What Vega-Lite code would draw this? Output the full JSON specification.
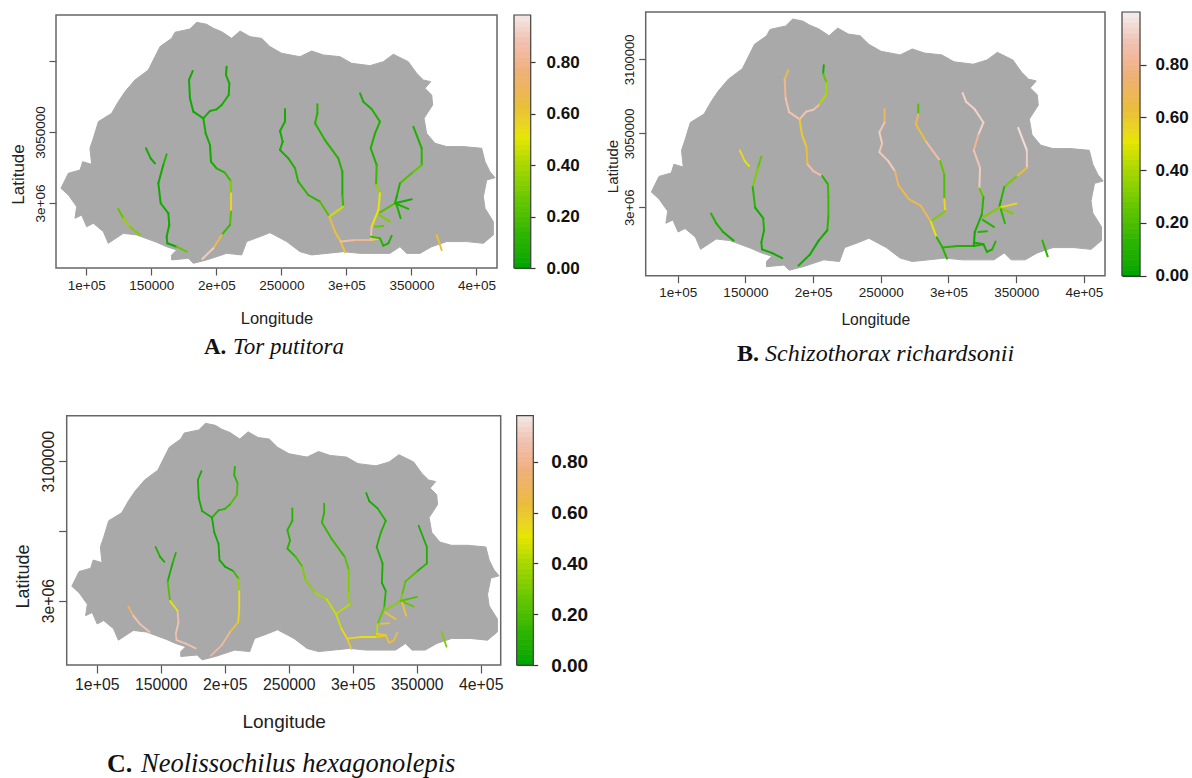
{"$schema":"https://vega.github.io/schema/vega-lite/v6.json","width":1192,"height":778,"autosize":{"type":"none"},"padding":0,"background":"white","config":{"view":{"stroke":null},"axis":{"grid":false,"domain":false,"labelFont":"Liberation Sans","titleFont":"Liberation Sans","labelColor":"#222","titleColor":"#222","titleFontWeight":"normal","tickColor":"#555","tickWidth":1.2,"labelOverlap":false,"labelFlush":false}},
"datasets":{
"outline":[{"o":1,"lon":80500,"lat":3010300},{"o":2,"lon":86200,"lat":3020900},{"o":3,"lon":95200,"lat":3023200},{"o":4,"lon":97200,"lat":3029100},{"o":5,"lon":104100,"lat":3027200},{"o":6,"lon":102800,"lat":3038500},{"o":7,"lon":105400,"lat":3045500},{"o":8,"lon":109300,"lat":3057300},{"o":9,"lon":119500,"lat":3063100},{"o":10,"lon":124600,"lat":3071300},{"o":11,"lon":129800,"lat":3078400},{"o":12,"lon":137400,"lat":3086600},{"o":13,"lon":147700,"lat":3093600},{"o":14,"lon":152800,"lat":3103000},{"o":15,"lon":156700,"lat":3110100},{"o":16,"lon":165600,"lat":3115900},{"o":17,"lon":168200,"lat":3120200},{"o":18,"lon":179700,"lat":3122500},{"o":19,"lon":184900,"lat":3127200},{"o":20,"lon":192600,"lat":3125800},{"o":21,"lon":197700,"lat":3123000},{"o":22,"lon":204100,"lat":3120600},{"o":23,"lon":211800,"lat":3115900},{"o":24,"lon":218200,"lat":3121100},{"o":25,"lon":225900,"lat":3117100},{"o":26,"lon":234800,"lat":3115900},{"o":27,"lon":241200,"lat":3110100},{"o":28,"lon":250200,"lat":3105400},{"o":29,"lon":264300,"lat":3103000},{"o":30,"lon":273300,"lat":3107000},{"o":31,"lon":282300,"lat":3104200},{"o":32,"lon":295100,"lat":3103000},{"o":33,"lon":304100,"lat":3098300},{"o":34,"lon":318200,"lat":3096700},{"o":35,"lon":328400,"lat":3099500},{"o":36,"lon":336100,"lat":3104700},{"o":37,"lon":347600,"lat":3099500},{"o":38,"lon":354000,"lat":3091300},{"o":39,"lon":359200,"lat":3086600},{"o":40,"lon":364800,"lat":3085400},{"o":41,"lon":360400,"lat":3080700},{"o":42,"lon":365600,"lat":3076000},{"o":43,"lon":366300,"lat":3069000},{"o":44,"lon":359700,"lat":3059600},{"o":45,"lon":361700,"lat":3049000},{"o":46,"lon":368100,"lat":3042000},{"o":47,"lon":377100,"lat":3039700},{"o":48,"lon":389900,"lat":3039700},{"o":49,"lon":404000,"lat":3038500},{"o":50,"lon":406600,"lat":3029100},{"o":51,"lon":410400,"lat":3022000},{"o":52,"lon":414300,"lat":3017800},{"o":53,"lon":407900,"lat":3016200},{"o":54,"lon":405300,"lat":3004400},{"o":55,"lon":406600,"lat":2996200},{"o":56,"lon":413000,"lat":2986800},{"o":57,"lon":413000,"lat":2977500},{"o":58,"lon":405300,"lat":2971600},{"o":59,"lon":392500,"lat":2972800},{"o":60,"lon":377100,"lat":2972800},{"o":61,"lon":365600,"lat":2969200},{"o":62,"lon":356600,"lat":2964500},{"o":63,"lon":346300,"lat":2964500},{"o":64,"lon":341200,"lat":2969200},{"o":65,"lon":333500,"lat":2964500},{"o":66,"lon":310500,"lat":2964500},{"o":67,"lon":297600,"lat":2965700},{"o":68,"lon":273300,"lat":2963400},{"o":69,"lon":264300,"lat":2965700},{"o":70,"lon":254100,"lat":2972800},{"o":71,"lon":241200,"lat":2979100},{"o":72,"lon":233600,"lat":2976300},{"o":73,"lon":223300,"lat":2972800},{"o":74,"lon":219500,"lat":2963400},{"o":75,"lon":207900,"lat":2964500},{"o":76,"lon":192600,"lat":2959900},{"o":77,"lon":182300,"lat":2957500},{"o":78,"lon":178500,"lat":2961000},{"o":79,"lon":165600,"lat":2959900},{"o":80,"lon":165600,"lat":2963400},{"o":81,"lon":169500,"lat":2966900},{"o":82,"lon":161800,"lat":2969200},{"o":83,"lon":154100,"lat":2972300},{"o":84,"lon":138700,"lat":2977500},{"o":85,"lon":128500,"lat":2978600},{"o":86,"lon":116900,"lat":2971600},{"o":87,"lon":113100,"lat":2979800},{"o":88,"lon":105400,"lat":2985700},{"o":89,"lon":100300,"lat":2983300},{"o":90,"lon":96400,"lat":2991500},{"o":91,"lon":91300,"lat":2989200},{"o":92,"lon":92600,"lat":2997400},{"o":93,"lon":86200,"lat":3005600},{"o":94,"lon":80500,"lat":3010300}],
"rivers":[
{"r":1,"lon":124600,"lat":2995800,"a":0.25,"b":0.1,"c":0.72},{"r":1,"lon":128500,"lat":2989200,"a":0.35,"b":0.08,"c":0.88},{"r":1,"lon":133600,"lat":2983300,"a":0.3,"b":0.05,"c":0.88},{"r":1,"lon":141300,"lat":2977500,"a":0.3,"b":0.1,"c":0.88},
{"r":2,"lon":145900,"lat":3038500,"a":0.05,"b":0.55,"c":0.08},{"r":2,"lon":149500,"lat":3031400,"a":0.03,"b":0.5,"c":0.03},{"r":2,"lon":152800,"lat":3027900,"a":0.03,"b":0.5,"c":0.03},
{"r":3,"lon":161800,"lat":3034300,"a":0.1,"b":0.25,"c":0.1},{"r":3,"lon":159200,"lat":3026700,"a":0.03,"b":0.3,"c":0.05},{"r":3,"lon":155400,"lat":3013800,"a":0.03,"b":0.12,"c":0.2},{"r":3,"lon":157200,"lat":2999800,"a":0.03,"b":0.04,"c":0.5},{"r":3,"lon":163100,"lat":2992700,"a":0.03,"b":0.08,"c":0.85},{"r":3,"lon":163800,"lat":2984500,"a":0.03,"b":0.05,"c":0.88},{"r":3,"lon":161800,"lat":2976300,"a":0.03,"b":0.05,"c":0.85},{"r":3,"lon":162300,"lat":2971600,"a":0.02,"b":0.03,"c":0.88},{"r":3,"lon":169500,"lat":2969200,"a":0.25,"b":0.03,"c":0.88},{"r":3,"lon":177200,"lat":2965700,"a":0.3,"b":0.03,"c":0.88},
{"r":4,"lon":181800,"lat":3092900,"a":0.03,"b":0.65,"c":0.05},{"r":4,"lon":179000,"lat":3086600,"a":0.03,"b":0.8,"c":0.05},{"r":4,"lon":179700,"lat":3073700,"a":0.03,"b":0.88,"c":0.05},{"r":4,"lon":182300,"lat":3064300,"a":0.03,"b":0.88,"c":0.05},{"r":4,"lon":190000,"lat":3059600,"a":0.03,"b":0.88,"c":0.05},
{"r":5,"lon":207900,"lat":3096000,"a":0.03,"b":0.05,"c":0.1},{"r":5,"lon":207400,"lat":3090100,"a":0.05,"b":0.25,"c":0.12},{"r":5,"lon":210000,"lat":3084200,"a":0.05,"b":0.38,"c":0.18},{"r":5,"lon":209500,"lat":3076000,"a":0.05,"b":0.4,"c":0.2},{"r":5,"lon":204100,"lat":3069000,"a":0.05,"b":0.85,"c":0.15},{"r":5,"lon":200200,"lat":3065900,"a":0.05,"b":0.88,"c":0.12},{"r":5,"lon":195100,"lat":3064800,"a":0.05,"b":0.88,"c":0.1},{"r":5,"lon":190000,"lat":3059600,"a":0.05,"b":0.88,"c":0.1},
{"r":6,"lon":190000,"lat":3059600,"a":0.05,"b":0.58,"c":0.03},{"r":6,"lon":191800,"lat":3049000,"a":0.05,"b":0.58,"c":0.03},{"r":6,"lon":195100,"lat":3040800,"a":0.03,"b":0.62,"c":0.03},{"r":6,"lon":195900,"lat":3029100,"a":0.05,"b":0.85,"c":0.03},{"r":6,"lon":200200,"lat":3024400,"a":0.1,"b":0.85,"c":0.03},{"r":6,"lon":206600,"lat":3021300,"a":0.15,"b":0.1,"c":0.15},{"r":6,"lon":211000,"lat":3015500,"a":0.3,"b":0.15,"c":0.35},{"r":6,"lon":211300,"lat":3006800,"a":0.55,"b":0.15,"c":0.52},{"r":6,"lon":211300,"lat":2993900,"a":0.2,"b":0.12,"c":0.55},{"r":6,"lon":210500,"lat":2984500,"a":0.15,"b":0.05,"c":0.6},{"r":6,"lon":204100,"lat":2977500,"a":0.65,"b":0.03,"c":0.82},{"r":6,"lon":197700,"lat":2968100,"a":0.9,"b":0.03,"c":0.82},{"r":6,"lon":189200,"lat":2960600,"a":0.6,"b":0.03,"c":0.6},
{"r":7,"lon":252800,"lat":3066200,"a":0.05,"b":0.68,"c":0.1},{"r":7,"lon":252800,"lat":3057300,"a":0.05,"b":0.88,"c":0.1},{"r":7,"lon":248950,"lat":3050700,"a":0.05,"b":0.9,"c":0.1},{"r":7,"lon":251000,"lat":3043200,"a":0.05,"b":0.88,"c":0.1},{"r":7,"lon":248950,"lat":3037300,"a":0.05,"b":0.9,"c":0.1},{"r":7,"lon":255400,"lat":3031400,"a":0.08,"b":0.9,"c":0.18},{"r":7,"lon":260500,"lat":3024400,"a":0.12,"b":0.72,"c":0.3},{"r":7,"lon":263000,"lat":3015000,"a":0.12,"b":0.65,"c":0.33},{"r":7,"lon":270700,"lat":3005600,"a":0.12,"b":0.65,"c":0.38},{"r":7,"lon":279700,"lat":3000900,"a":0.2,"b":0.68,"c":0.45},{"r":7,"lon":286900,"lat":2990400,"a":0.4,"b":0.5,"c":0.45},
{"r":8,"lon":277700,"lat":3069500,"a":0.1,"b":0.2,"c":0.12},{"r":8,"lon":277700,"lat":3063100,"a":0.1,"b":0.68,"c":0.12},{"r":8,"lon":275900,"lat":3056100,"a":0.1,"b":0.62,"c":0.13},{"r":8,"lon":283500,"lat":3044300,"a":0.1,"b":0.85,"c":0.15},{"r":8,"lon":293800,"lat":3031400,"a":0.1,"b":0.25,"c":0.22},{"r":8,"lon":296900,"lat":3022000,"a":0.08,"b":0.2,"c":0.3},{"r":8,"lon":296900,"lat":3005600,"a":0.15,"b":0.55,"c":0.35},{"r":8,"lon":297600,"lat":2997400,"a":0.45,"b":0.3,"c":0.42},{"r":8,"lon":286900,"lat":2990400,"a":0.5,"b":0.3,"c":0.45},
{"r":9,"lon":286900,"lat":2990400,"a":0.65,"b":0.5,"c":0.45},{"r":9,"lon":291200,"lat":2979800,"a":0.6,"b":0.1,"c":0.55},{"r":9,"lon":295600,"lat":2972800,"a":0.6,"b":0.1,"c":0.58},{"r":9,"lon":298900,"lat":2965300,"a":0.6,"b":0.1,"c":0.6},
{"r":10,"lon":295600,"lat":2972800,"a":0.85,"b":0.1,"c":0.55},{"r":10,"lon":306600,"lat":2973900,"a":0.8,"b":0.08,"c":0.52},{"r":10,"lon":318700,"lat":2973900,"a":0.55,"b":0.06,"c":0.58},{"r":10,"lon":325800,"lat":2975100,"a":0.5,"b":0.06,"c":0.6},
{"r":11,"lon":310500,"lat":3077200,"a":0.06,"b":0.92,"c":0.03},{"r":11,"lon":313000,"lat":3071300,"a":0.06,"b":0.92,"c":0.05},{"r":11,"lon":319400,"lat":3066200,"a":0.08,"b":0.92,"c":0.08},{"r":11,"lon":325800,"lat":3057300,"a":0.08,"b":0.92,"c":0.08},{"r":11,"lon":322000,"lat":3049000,"a":0.08,"b":0.8,"c":0.08},{"r":11,"lon":318700,"lat":3038500,"a":0.08,"b":0.88,"c":0.06},{"r":11,"lon":323300,"lat":3026700,"a":0.15,"b":0.9,"c":0.05},{"r":11,"lon":322800,"lat":3012700,"a":0.35,"b":0.25,"c":0.03},{"r":11,"lon":325800,"lat":3006800,"a":0.5,"b":0.12,"c":0.1},{"r":11,"lon":324600,"lat":2995100,"a":0.5,"b":0.06,"c":0.25},{"r":11,"lon":319400,"lat":2983300,"a":0.85,"b":0.03,"c":0.42},{"r":11,"lon":318700,"lat":2973900,"a":0.85,"b":0.03,"c":0.58},
{"r":12,"lon":351500,"lat":3053700,"a":0.08,"b":0.95,"c":0.06},{"r":12,"lon":357900,"lat":3038500,"a":0.12,"b":0.9,"c":0.08},{"r":12,"lon":357900,"lat":3026700,"a":0.25,"b":0.62,"c":0.1},{"r":12,"lon":350200,"lat":3020900,"a":0.2,"b":0.28,"c":0.2},{"r":12,"lon":341200,"lat":3013800,"a":0.08,"b":0.12,"c":0.22},{"r":12,"lon":338650,"lat":3004400,"a":0.04,"b":0.05,"c":0.3},{"r":12,"lon":337400,"lat":2999800,"a":0.2,"b":0.3,"c":0.32},{"r":12,"lon":325800,"lat":2993400,"a":0.5,"b":0.5,"c":0.35},
{"r":13,"lon":337400,"lat":2999800,"a":0.04,"b":0.55,"c":0.2},{"r":13,"lon":350200,"lat":3002600,"a":0.04,"b":0.55,"c":0.2},
{"r":14,"lon":337400,"lat":2999800,"a":0.08,"b":0.3,"c":0.25},{"r":14,"lon":347600,"lat":2995800,"a":0.08,"b":0.3,"c":0.25},
{"r":15,"lon":338650,"lat":2998600,"a":0.08,"b":0.12,"c":0.6},{"r":15,"lon":341700,"lat":2989200,"a":0.08,"b":0.12,"c":0.6},
{"r":16,"lon":322000,"lat":2983300,"a":0.25,"b":0.1,"c":0.6},{"r":16,"lon":328400,"lat":2983800,"a":0.25,"b":0.1,"c":0.6},
{"r":17,"lon":325300,"lat":2991500,"a":0.3,"b":0.1,"c":0.6},{"r":17,"lon":333500,"lat":2986800,"a":0.3,"b":0.1,"c":0.6},
{"r":18,"lon":318700,"lat":2976300,"a":0.15,"b":0.05,"c":0.58},{"r":18,"lon":325800,"lat":2975100,"a":0.1,"b":0.05,"c":0.6},{"r":18,"lon":328400,"lat":2969900,"a":0.08,"b":0.05,"c":0.65},{"r":18,"lon":332250,"lat":2971600,"a":0.08,"b":0.1,"c":0.65},{"r":18,"lon":334800,"lat":2976800,"a":0.08,"b":0.1,"c":0.65},
{"r":19,"lon":369400,"lat":2977500,"a":0.62,"b":0.12,"c":0.3},{"r":19,"lon":373250,"lat":2966900,"a":0.62,"b":0.12,"c":0.3}],
"bar":[{"v0":0,"v1":0.02},{"v0":0.02,"v1":0.04},{"v0":0.04,"v1":0.06},{"v0":0.06,"v1":0.08},{"v0":0.08,"v1":0.1},{"v0":0.1,"v1":0.12},{"v0":0.12,"v1":0.14},{"v0":0.14,"v1":0.16},{"v0":0.16,"v1":0.18},{"v0":0.18,"v1":0.2},{"v0":0.2,"v1":0.22},{"v0":0.22,"v1":0.24},{"v0":0.24,"v1":0.26},{"v0":0.26,"v1":0.28},{"v0":0.28,"v1":0.3},{"v0":0.3,"v1":0.32},{"v0":0.32,"v1":0.34},{"v0":0.34,"v1":0.36},{"v0":0.36,"v1":0.38},{"v0":0.38,"v1":0.4},{"v0":0.4,"v1":0.42},{"v0":0.42,"v1":0.44},{"v0":0.44,"v1":0.46},{"v0":0.46,"v1":0.48},{"v0":0.48,"v1":0.5},{"v0":0.5,"v1":0.52},{"v0":0.52,"v1":0.54},{"v0":0.54,"v1":0.56},{"v0":0.56,"v1":0.58},{"v0":0.58,"v1":0.6},{"v0":0.6,"v1":0.62},{"v0":0.62,"v1":0.64},{"v0":0.64,"v1":0.66},{"v0":0.66,"v1":0.68},{"v0":0.68,"v1":0.7},{"v0":0.7,"v1":0.72},{"v0":0.72,"v1":0.74},{"v0":0.74,"v1":0.76},{"v0":0.76,"v1":0.78},{"v0":0.78,"v1":0.8},{"v0":0.8,"v1":0.82},{"v0":0.82,"v1":0.84},{"v0":0.84,"v1":0.86},{"v0":0.86,"v1":0.88},{"v0":0.88,"v1":0.9},{"v0":0.9,"v1":0.92},{"v0":0.92,"v1":0.94},{"v0":0.94,"v1":0.96},{"v0":0.96,"v1":0.98},{"v0":0.98,"v1":1}]
},
"resolve":{"scale":{"x":"independent","y":"independent"}},
"layer":[
{"encoding":{"x":{"field":"lon","type":"quantitative","title":"Longitude","scale":{"domain":[76700,415800],"range":[56,497],"nice":false,"zero":false},"axis":{"orient":"bottom","offset":-510,"values":[100000,150000,200000,250000,300000,350000,400000],"labelExpr":"datum.value%100000==0?(datum.value/100000)+'e+05':''+datum.value","labelFontSize":13.5,"titleFontSize":16.5,"tickSize":7,"labelPadding":3,"titleBaseline":"middle","titleY":50}},"y":{"field":"lat","type":"quantitative","title":"Latitude","scale":{"domain":[2954200,3132350],"range":[268,15],"nice":false,"zero":false},"axis":{"orient":"left","offset":-56,"values":[3000000,3050000,3100000],"labelExpr":"datum.value==3000000?'3e+06':datum.value==3050000?'3050000':''","labelAngle":270,"labelFontSize":13.5,"titleFontSize":17,"tickSize":7,"labelPadding":2,"titleBaseline":"middle","titleX":-38,"titleY":174}}},
"layer":[
{"data":{"name":"outline"},"mark":{"type":"line","fill":"#a9a9a9","stroke":"#a9a9a9","strokeWidth":1},"encoding":{"order":{"field":"o"}}},
{"data":{"name":"rivers"},"transform":[{"window":[{"op":"lead","field":"lon","as":"lon2"},{"op":"lead","field":"lat","as":"lat2"}],"groupby":["r"]},{"filter":"isValid(datum.lon2)"}],"mark":{"type":"rule","strokeWidth":2,"strokeCap":"round"},"encoding":{"x2":{"field":"lon2"},"y2":{"field":"lat2"},"color":{"field":"a","type":"quantitative","legend":null,"scale":{"domain":[0,0.125,0.25,0.375,0.5,0.625,0.75,0.875,1],"range":["#00A600","#2DB600","#63C600","#A0D600","#E6E600","#E9BD3A","#ECB176","#EFC2B3","#F2F2F2"]}}}},
{"data":{"values":[{"lon":76700,"lon2":415800,"lat":2954200,"lat2":3132350}]},"mark":{"type":"rect","fill":null,"stroke":"#666","strokeWidth":1.5},"encoding":{"x2":{"field":"lon2"},"y2":{"field":"lat2"}}},
{"data":{"values":[{"lon":190500,"lat":2898600,"t":"A."}]},"mark":{"type":"text","align":"left","baseline":"middle","font":"Liberation Serif","fontWeight":"bold","fontSize":23,"color":"#111"},"encoding":{"text":{"field":"t"}}},
{"data":{"values":[{"lon":212800,"lat":2898600,"t":"Tor putitora"}]},"mark":{"type":"text","align":"left","baseline":"middle","font":"Liberation Serif","fontStyle":"italic","fontSize":23,"color":"#111"},"encoding":{"text":{"field":"t"}}}
]},
{"data":{"name":"bar"},"encoding":{"x":{"datum":0,"type":"quantitative","scale":{"domain":[0,1],"range":[514,530.7]},"axis":null},"x2":{"datum":1},"y":{"field":"v0","type":"quantitative","title":null,"scale":{"domain":[0,0.984],"range":[268,15],"nice":false,"clamp":true},"axis":{"orient":"right","offset":-678,"values":[0,0.2,0.4,0.6,0.8],"format":".2f","tickSize":21,"tickColor":"#333","labelPadding":11,"labelFontSize":17,"labelFontWeight":"bold","labelColor":"#111"}},"y2":{"field":"v1"}},
"layer":[{"mark":{"type":"rect","strokeWidth":0.8},"encoding":{"color":{"field":"v0","type":"quantitative","legend":null},"stroke":{"field":"v0","type":"quantitative","legend":null,"scale":{"domain":[0,0.125,0.25,0.375,0.5,0.625,0.75,0.875,1],"range":["#00A600","#2DB600","#63C600","#A0D600","#E6E600","#E9BD3A","#ECB176","#EFC2B3","#F2F2F2"]}}}},
{"data":{"values":[{"v0":0,"v1":0.984}]},"mark":{"type":"rect","fill":null,"stroke":"#444","strokeWidth":1.2}}]},
{"encoding":{"x":{"field":"lon","type":"quantitative","title":"Longitude","scale":{"domain":[76360,415600],"range":[645.7,1105],"nice":false,"zero":false},"axis":{"orient":"bottom","offset":-502.3,"values":[100000,150000,200000,250000,300000,350000,400000],"labelExpr":"datum.value%100000==0?(datum.value/100000)+'e+05':''+datum.value","labelFontSize":13.5,"titleFontSize":15.7,"tickSize":7,"labelPadding":3,"titleBaseline":"middle","titleY":44}},"y":{"field":"lat","type":"quantitative","title":"Latitude","scale":{"domain":[2953800,3131970],"range":[275.7,12],"nice":false,"zero":false},"axis":{"orient":"left","offset":-645.7,"values":[3000000,3050000,3100000],"labelExpr":"datum.value==3000000?'3e+06':''+datum.value","labelAngle":270,"labelFontSize":13,"titleFontSize":15,"tickSize":7,"labelPadding":2,"titleBaseline":"middle","titleX":-33.7,"titleY":166}}},
"layer":[
{"data":{"name":"outline"},"mark":{"type":"line","fill":"#a9a9a9","stroke":"#a9a9a9","strokeWidth":1},"encoding":{"order":{"field":"o"}}},
{"data":{"name":"rivers"},"transform":[{"window":[{"op":"lead","field":"lon","as":"lon2"},{"op":"lead","field":"lat","as":"lat2"}],"groupby":["r"]},{"filter":"isValid(datum.lon2)"}],"mark":{"type":"rule","strokeWidth":2,"strokeCap":"round"},"encoding":{"x2":{"field":"lon2"},"y2":{"field":"lat2"},"color":{"field":"b","type":"quantitative","legend":null}}},
{"data":{"values":[{"lon":76360,"lon2":415600,"lat":2953800,"lat2":3131970}]},"mark":{"type":"rect","fill":null,"stroke":"#666","strokeWidth":1.5},"encoding":{"x2":{"field":"lon2"},"y2":{"field":"lat2"}}},
{"data":{"values":[{"lon":143800,"lat":2900900,"t":"B."}]},"mark":{"type":"text","align":"left","baseline":"middle","font":"Liberation Serif","fontWeight":"bold","fontSize":24,"color":"#111"},"encoding":{"text":{"field":"t"}}},
{"data":{"values":[{"lon":164500,"lat":2900900,"t":"Schizothorax richardsonii"}]},"mark":{"type":"text","align":"left","baseline":"middle","font":"Liberation Serif","fontStyle":"italic","fontSize":24,"color":"#111"},"encoding":{"text":{"field":"t"}}}
]},
{"data":{"name":"bar"},"encoding":{"x":{"datum":0,"type":"quantitative","scale":{"domain":[0,1],"range":[1122,1140]},"axis":null},"x2":{"datum":1},"y":{"field":"v0","type":"quantitative","title":null,"scale":{"domain":[0,1],"range":[275.7,12],"nice":false,"clamp":true},"axis":{"orient":"right","offset":-70,"values":[0,0.2,0.4,0.6,0.8],"format":".2f","tickSize":24,"tickColor":"#333","labelPadding":9,"labelFontSize":17,"labelFontWeight":"bold","labelColor":"#111"}},"y2":{"field":"v1"}},
"layer":[{"mark":{"type":"rect","strokeWidth":0.8},"encoding":{"color":{"field":"v0","type":"quantitative","legend":null},"stroke":{"field":"v0","type":"quantitative","legend":null}}},
{"data":{"values":[{"v0":0,"v1":1}]},"mark":{"type":"rect","fill":null,"stroke":"#444","strokeWidth":1.2}}]},
{"encoding":{"x":{"field":"lon","type":"quantitative","title":"Longitude","scale":{"domain":[76500,415600],"range":[66.7,500.7],"nice":false,"zero":false},"axis":{"orient":"bottom","offset":-113,"values":[100000,150000,200000,250000,300000,350000,400000],"labelExpr":"datum.value%100000==0?(datum.value/100000)+'e+05':''+datum.value","labelFontSize":15.8,"titleFontSize":19,"tickSize":8,"labelPadding":4,"titleBaseline":"middle","titleY":56}},"y":{"field":"lat","type":"quantitative","title":"Latitude","scale":{"domain":[2953800,3132700],"range":[665,415.7],"nice":false,"zero":false},"axis":{"orient":"left","offset":-66.7,"values":[3000000,3050000,3100000],"labelExpr":"datum.value==3000000?'3e+06':datum.value==3100000?'3100000':''","labelAngle":270,"labelFontSize":15.8,"titleFontSize":18,"tickSize":8,"labelPadding":2,"titleBaseline":"middle","titleX":-42.7,"titleY":576}}},
"layer":[
{"data":{"name":"outline"},"mark":{"type":"line","fill":"#a9a9a9","stroke":"#a9a9a9","strokeWidth":1},"encoding":{"order":{"field":"o"}}},
{"data":{"name":"rivers"},"transform":[{"window":[{"op":"lead","field":"lon","as":"lon2"},{"op":"lead","field":"lat","as":"lat2"}],"groupby":["r"]},{"filter":"isValid(datum.lon2)"}],"mark":{"type":"rule","strokeWidth":1.8,"strokeCap":"round"},"encoding":{"x2":{"field":"lon2"},"y2":{"field":"lat2"},"color":{"field":"c","type":"quantitative","legend":null}}},
{"data":{"values":[{"lon":76500,"lon2":415600,"lat":2953800,"lat2":3132700}]},"mark":{"type":"rect","fill":null,"stroke":"#666","strokeWidth":1.5},"encoding":{"x2":{"field":"lon2"},"y2":{"field":"lat2"}}},
{"data":{"values":[{"lon":108000,"lat":2883100,"t":"C."}]},"mark":{"type":"text","align":"left","baseline":"middle","font":"Liberation Serif","fontWeight":"bold","fontSize":26,"color":"#111"},"encoding":{"text":{"field":"t"}}},
{"data":{"values":[{"lon":134600,"lat":2883100,"t":"Neolissochilus hexagonolepis"}]},"mark":{"type":"text","align":"left","baseline":"middle","font":"Liberation Serif","fontStyle":"italic","fontSize":26.5,"color":"#111"},"encoding":{"text":{"field":"t"}}}
]},
{"data":{"name":"bar"},"encoding":{"x":{"datum":0,"type":"quantitative","scale":{"domain":[0,1],"range":[516.7,533.3]},"axis":null},"x2":{"datum":1},"y":{"field":"v0","type":"quantitative","title":null,"scale":{"domain":[0,0.982],"range":[665,415.7],"nice":false,"clamp":true},"axis":{"orient":"right","offset":-675.3,"values":[0,0.2,0.4,0.6,0.8],"format":".2f","tickSize":21,"tickColor":"#333","labelPadding":13,"labelFontSize":19,"labelFontWeight":"bold","labelColor":"#111"}},"y2":{"field":"v1"}},
"layer":[{"mark":{"type":"rect","strokeWidth":0.8},"encoding":{"color":{"field":"v0","type":"quantitative","legend":null},"stroke":{"field":"v0","type":"quantitative","legend":null}}},
{"data":{"values":[{"v0":0,"v1":0.982}]},"mark":{"type":"rect","fill":null,"stroke":"#444","strokeWidth":1.2}}]}
]}
